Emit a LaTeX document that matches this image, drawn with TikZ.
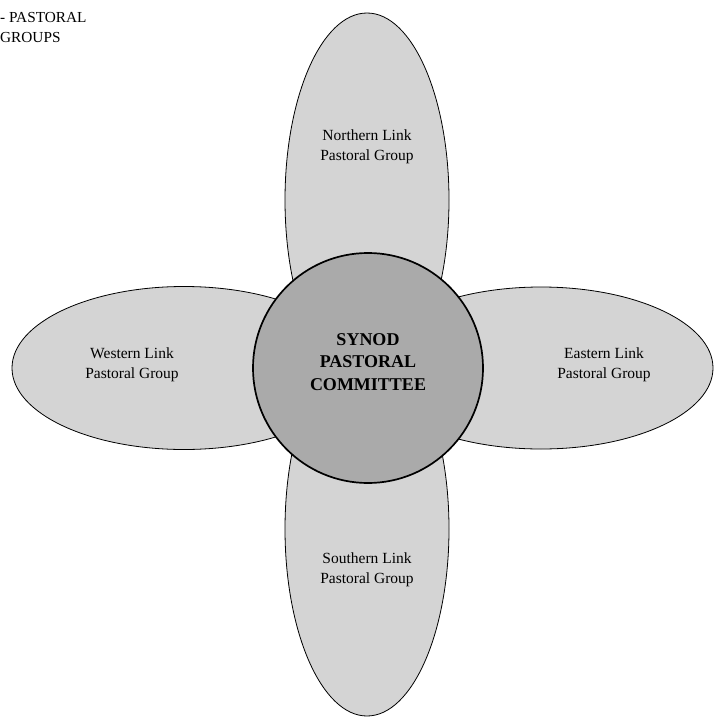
\documentclass[tikz,border=0pt]{standalone}
\usepackage{fontspec}
\setmainfont{Liberation Serif}
\usetikzlibrary{shapes.geometric}
\definecolor{linkgray}{RGB}{212,212,212}
\definecolor{synodgray}{RGB}{170,170,170}
\begin{document}
\begin{tikzpicture}[x=1pt, y=-1pt,
  link/.style={ellipse, draw, line width=0.8pt, fill=linkgray, inner sep=0pt},
  synod/.style={circle, draw, line width=1.7pt, fill=synodgray, minimum size=230pt, inner sep=0pt},
  linktext/.style={align=center, inner sep=0pt, font=\fontsize{15.5}{19.5}\selectfont},
  synodtext/.style={align=center, inner sep=0pt, font=\fontsize{18}{22.5}\selectfont\bfseries}]

  \useasboundingbox (0,0) rectangle (715,717);

  % title, cut off at the left
  \node (title) at (0,12) [anchor=north west, align=left, inner sep=0pt, font=\fontsize{15.3}{20.5}\selectfont] {- PASTORAL\\GROUPS};

  % link groups
  \node (north) at (367,200) [link, minimum width=164pt, minimum height=374pt] {};
  \node (south) at (367,529) [link, minimum width=164pt, minimum height=374pt] {};
  \node (west) at (184,368) [link, minimum width=344pt, minimum height=163pt] {};
  \node (east) at (541,368) [link, minimum width=344pt, minimum height=162pt] {};

  % committee
  \node (synod) at (368,368) [synod] {};

  % texts
  \node (synodtxt) at (synod) [synodtext, yshift=6pt] {SYNOD\\PASTORAL\\COMMITTEE};
  \node (northtxt) at (367,147) [linktext] {Northern Link\\Pastoral Group};
  \node (southtxt) at (367,570) [linktext] {Southern Link\\Pastoral Group};
  \node (westtxt) at (132,365) [linktext] {Western Link\\Pastoral Group};
  \node (easttxt) at (604,365) [linktext] {Eastern Link\\Pastoral Group};

\end{tikzpicture}
\end{document}
